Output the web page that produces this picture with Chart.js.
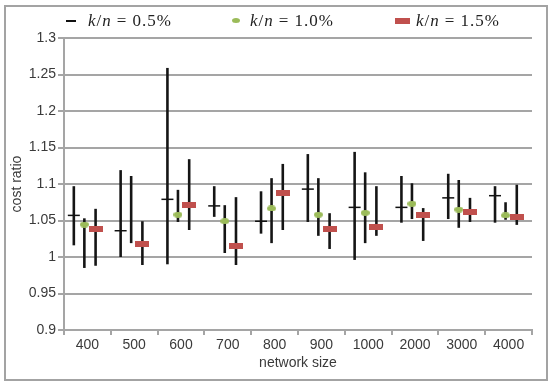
<!DOCTYPE html>
<html>
<head>
<meta charset="utf-8">
<script src="https://cdn.jsdelivr.net/npm/chart.js@4.4.0/dist/chart.umd.min.js"></script>
<style>
  html, body { margin: 0; padding: 0; background: #fff; }
  #wrap { position: relative; width: 555px; height: 383px; }
  #frame { position: absolute; left: 4px; top: 5px; width: 544px; height: 376px;
           border: 2px solid #a3a3a3; box-sizing: border-box; pointer-events: none; }
  .item { position: absolute; top: 10px; height: 22px; white-space: nowrap;
          font-family: "Liberation Serif", serif; font-size: 17px; letter-spacing: 1px;
          color: #222; line-height: 22px; }
  .item i { font-style: italic; }
  .item .eq { margin: 0 5px; }
  .mk { position: absolute; }
</style>
</head>
<body>
<div id="wrap">
  <canvas id="myChart" width="555" height="383"></canvas>
  <div id="frame"></div>
  <div id="legend"></div>
</div>
<script>
const sizes = ["400", "500", "600", "700", "800", "900", "1000", "2000", "3000", "4000"];

// k/n = 0.5%
const mean05 = [1.057, 1.036, 1.079, 1.070, 1.049, 1.093, 1.068, 1.068, 1.081, 1.084];
const low05 = [1.016, 1.000, 0.990, 1.055, 1.032, 1.048, 0.996, 1.047, 1.052, 1.047];
const high05 = [1.097, 1.119, 1.259, 1.097, 1.090, 1.141, 1.144, 1.111, 1.114, 1.097];

// k/n = 1.0%  (no marker visible at 500)
const mean10 = [1.0445, null, 1.058, 1.049, 1.0665, 1.058, 1.0605, 1.073, 1.065, 1.057];
const low10 = [0.985, 1.019, 1.048, 1.0055, 1.019, 1.029, 1.019, 1.052, 1.040, 1.051];
const high10 = [1.053, 1.111, 1.092, 1.071, 1.108, 1.108, 1.116, 1.101, 1.1055, 1.075];

// k/n = 1.5%
const mean15 = [1.0385, 1.018, 1.071, 1.015, 1.087, 1.039, 1.041, 1.057, 1.062, 1.0545];
const low15 = [0.988, 0.989, 1.037, 0.989, 1.037, 1.011, 1.029, 1.022, 1.048, 1.044];
const high15 = [1.066, 1.049, 1.134, 1.082, 1.1275, 1.060, 1.097, 1.067, 1.081, 1.099];

const seriesNames = ["0.5%", "1.0%", "1.5%"];

const GREEN = "#9bbb59";
const RED = "#c0504d";
const TEXT = "#3a3a3a";
const GRID = "#a5a5a5";
const FONT = "'Liberation Sans', Arial, sans-serif";

// marker images
const makeMarker = (w, h, color, ellipse) => {
  const c = document.createElement("canvas");
  c.width = w;
  c.height = h;
  const g = c.getContext("2d");
  g.fillStyle = color;
  if (ellipse) {
    g.beginPath();
    g.ellipse(w / 2, h / 2, w / 2, h / 2, 0, 0, Math.PI * 2);
    g.fill();
  } else {
    g.fillRect(0, 0, w, h);
  }
  return c;
};
const greenDot = makeMarker(9, 6, GREEN, true);
const redBar = makeMarker(14, 6, RED, false);

// horizontal shift of each series inside its category (in category units)
const shifts = [-0.29, -0.065, 0.175];

const points = (vals, shift) => vals.map((v, i) => ({ x: i + shift, y: v }));

const errorBars = {
  id: "errorBars",
  beforeDatasetsDraw(chart) {
    const { ctx } = chart;
    const xs = chart.scales.xv;
    const ys = chart.scales.y;
    ctx.save();
    ctx.strokeStyle = "#151515";
    ctx.lineWidth = 2.6;
    chart.data.datasets.forEach((ds) => {
      ds.low.forEach((lo, i) => {
        const x = xs.getPixelForValue(i + ds.shift);
        ctx.beginPath();
        ctx.moveTo(x, ys.getPixelForValue(ds.high[i]));
        ctx.lineTo(x, ys.getPixelForValue(lo));
        ctx.stroke();
      });
    });
    ctx.restore();
  },
};

const ctx = document.getElementById("myChart");
new Chart(ctx, {
  type: "scatter",
  data: {
    datasets: [
      {
        label: seriesNames[0],
        data: points(mean05, shifts[0]),
        low: low05,
        high: high05,
        shift: shifts[0],
        xAxisID: "xv",
        pointStyle: "line",
        pointRadius: 6,
        borderColor: "#111",
        borderWidth: 1.5,
      },
      {
        label: seriesNames[1],
        data: points(mean10, shifts[1]),
        low: low10,
        high: high10,
        shift: shifts[1],
        xAxisID: "xv",
        pointStyle: greenDot,
        pointRadius: 4,
      },
      {
        label: seriesNames[2],
        data: points(mean15, shifts[2]),
        low: low15,
        high: high15,
        shift: shifts[2],
        xAxisID: "xv",
        pointStyle: redBar,
        pointRadius: 4,
      },
    ],
  },
  options: {
    responsive: false,
    animation: false,
    events: [],
    layout: { padding: { top: 38, right: 23, bottom: 0, left: 0 } },
    plugins: { legend: { display: false }, tooltip: { enabled: false } },
    scales: {
      x: {
        type: "category",
        labels: sizes,
        offset: true,
        position: "bottom",
        grid: {
          display: true,
          drawOnChartArea: false,
          drawTicks: true,
          offset: true,
          tickLength: 5,
          color: GRID,
          lineWidth: 2,
        },
        border: { display: true, color: GRID, width: 2 },
        ticks: {
          color: TEXT,
          font: { family: FONT, size: 14 },
          padding: 2,
          maxRotation: 0,
          autoSkip: false,
        },
        title: {
          display: true,
          text: "network size",
          color: TEXT,
          font: { family: FONT, size: 14 },
          padding: { top: 0, bottom: 11 },
        },
        afterFit: (s) => {
          s.height = 53;
        },
      },
      xv: { type: "linear", min: -0.5, max: 9.5, display: false },
      y: {
        min: 0.9,
        max: 1.3,
        ticks: {
          stepSize: 0.05,
          color: TEXT,
          font: { family: FONT, size: 14 },
          padding: 2,
          callback: (v) => String(+v.toFixed(2)),
        },
        grid: { color: GRID, lineWidth: 2, tickLength: 6 },
        border: { display: true, color: GRID, width: 2 },
        title: {
          display: true,
          text: "cost ratio",
          color: TEXT,
          font: { family: FONT, size: 14 },
          padding: { top: 9, bottom: 0 },
        },
        afterFit: (s) => {
          s.width = 64;
        },
      },
    },
  },
  plugins: [errorBars],
});

// legend with math-style labels
const legend = document.getElementById("legend");
const legendItems = [
  { left: 66, text: 88, marker: '<div class="mk" style="left:0;top:10px;width:10px;height:1.5px;background:#111"></div>' },
  { left: 232, text: 250, marker: '<div class="mk" style="left:0;top:8px;width:8px;height:5px;border-radius:50%;background:' + GREEN + '"></div>' },
  { left: 395, text: 416, marker: '<div class="mk" style="left:0;top:8px;width:15px;height:6px;background:' + RED + '"></div>' },
];
legendItems.forEach((it, j) => {
  const el = document.createElement("div");
  el.className = "item";
  el.style.left = it.left + "px";
  el.innerHTML =
    it.marker +
    '<span style="position:absolute;left:' + (it.text - it.left) + 'px"><i>k</i>/<i>n</i><span class="eq">=</span>' +
    seriesNames[j] + "</span>";
  legend.appendChild(el);
});
</script>
</body>
</html>
